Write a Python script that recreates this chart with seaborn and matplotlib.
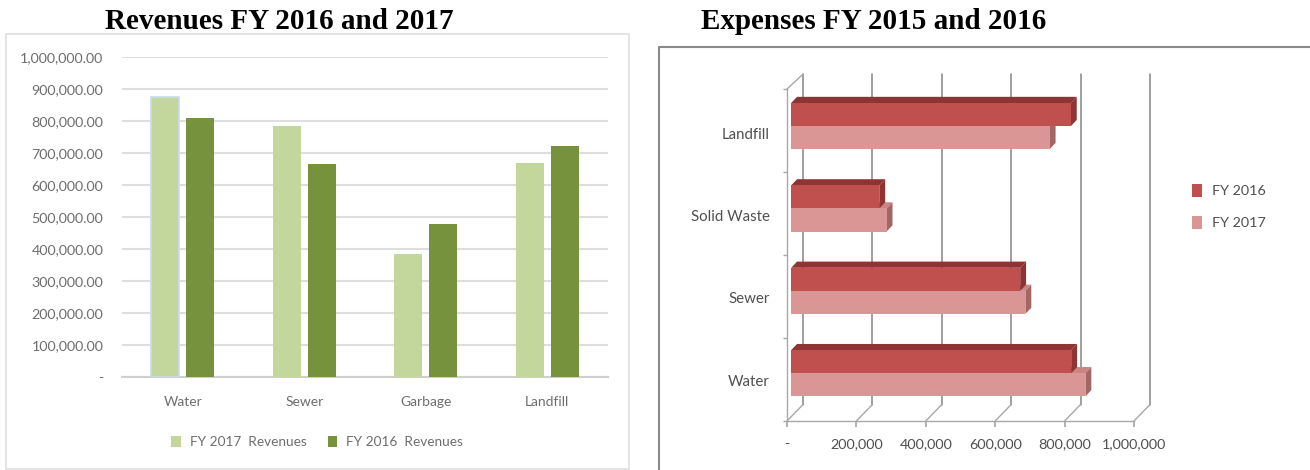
import numpy as np
import pandas as pd
import matplotlib
matplotlib.use("Agg")
import matplotlib.pyplot as plt
from matplotlib.lines import Line2D
from matplotlib.patches import Polygon, Rectangle
import seaborn as sns

# data
rev_categories = ["Water", "Sewer", "Garbage", "Landfill"]
rev_fy2017 = [875000, 784000, 384000, 669000]
rev_fy2016 = [808000, 665000, 477000, 721000]
rev_ticks = list(range(0, 1000001, 100000))
rev_ticklabels = ["-"] + [f"{v:,.2f}" for v in rev_ticks[1:]]

exp_categories = ["Landfill", "Solid Waste", "Sewer", "Water"]
exp_fy2016 = [806000, 254000, 660000, 807000]
exp_fy2017 = [745000, 275000, 675000, 848000]
exp_ticks = [0, 200000, 400000, 600000, 800000, 1000000]
exp_ticklabels = ["-", "200,000", "400,000", "600,000", "800,000", "1,000,000"]

W, H = 1310, 470
TEXT_GREY = "#6e6e6e"
LABEL_GREY = "#505050"
LIGHT_GREEN, DARK_GREEN = "#c3d69b", "#76923c"
LIGHT_RED, DARK_RED = "#d99694", "#c0504d"
SANS = ["Lato", "DejaVu Sans"]
SERIF = ["Liberation Serif", "DejaVu Serif"]


def px_axes(fig, x0, y0, x1, y1):
    # axes box given in image pixels, y counted from the top
    ax = fig.add_axes([x0 / W, 1 - y1 / H, (x1 - x0) / W, (y1 - y0) / H])
    ax.patch.set_alpha(0)
    return ax


sns.set_theme(style="white")
plt.rcParams["font.family"] = SANS
fig = plt.figure(figsize=(W / 100, H / 100), dpi=100, facecolor="white")

# panel frames
fig.add_artist(Rectangle((6 / W, 1 - 469 / H), 623 / W, 435 / H, transform=fig.transFigure,
                         fc="white", ec="#e2e2e2", lw=1.3, zorder=-1))
fig.add_artist(Line2D([658.5 / W, 658.5 / W, 1], [0, 1 - 47 / H, 1 - 47 / H],
                      transform=fig.transFigure, color="#8a8a8a", lw=1.5, zorder=-1))

fig.text(279 / W, 1 - 21.5 / H, "Revenues FY 2016 and 2017", family=SERIF, weight="bold",
         fontsize=21, color="black", ha="center", va="center")
fig.text(874 / W, 1 - 21.5 / H, "Expenses FY 2015 and 2016", family=SERIF, weight="bold",
         fontsize=21, color="black", ha="center", va="center")

# ── revenues ──────────────────────────────────────────────────────────────────
rev = pd.DataFrame({"category": rev_categories,
                    "FY 2017  Revenues": rev_fy2017,
                    "FY 2016  Revenues": rev_fy2016}).melt("category", var_name="series", value_name="value")
ax1 = px_axes(fig, 122, 57, 608, 377)
sns.barplot(data=rev, x="category", y="value", hue="series", ax=ax1,
            palette=[LIGHT_GREEN, DARK_GREEN], width=0.58, gap=0.2, saturation=1, zorder=3,
            linewidth=0)
ax1.patches[0].set_edgecolor("#c9dcec")
ax1.patches[0].set_linewidth(1.2)
ax1.set_xlim(-0.5, 3.5)
ax1.set_ylim(0, 1000000)
ax1.set_yticks(rev_ticks, rev_ticklabels)
ax1.set_xlabel("")
ax1.set_ylabel("")
ax1.grid(axis="y", color="#dedede", lw=1.5, zorder=0)
ax1.set_axisbelow(True)
for side in ["top", "left", "right"]:
    ax1.spines[side].set_visible(False)
ax1.spines["bottom"].set_color("#cfcfcf")
ax1.spines["bottom"].set_linewidth(1.5)
ax1.tick_params(axis="y", length=0, pad=13.5, labelsize=10.3, labelcolor=TEXT_GREY)
ax1.tick_params(axis="x", length=0, pad=13.5, labelsize=10, labelcolor=TEXT_GREY)
handles, labels = ax1.get_legend_handles_labels()
ax1.legend(handles, labels, ncol=2, frameon=False, loc="center", fontsize=9.8,
           bbox_to_anchor=(317 / W, 1 - 442 / H), bbox_transform=fig.transFigure,
           labelcolor=TEXT_GREY, handlelength=0.7, handleheight=0.9, handletextpad=0.65,
           columnspacing=1.56)

# ── expenses ──────────────────────────────────────────────────────────────────
FRONT = 12000     # bars sit this far behind the front axis plane
BACK = 34000      # back wall, behind the bars
BAR_DX, BAR_DY = 17000, 0.075
exp = pd.DataFrame({"category": exp_categories,
                    "FY 2016": exp_fy2016,
                    "FY 2017": exp_fy2017}).melt("category", var_name="series", value_name="value")
ax2 = px_axes(fig, 787, 89, 1134, 421)
sns.barplot(data=exp, y="category", x="value", hue="series", ax=ax2, orient="y",
            palette=[DARK_RED, LIGHT_RED], width=0.56, gap=0, saturation=1, zorder=3,
            linewidth=0)
ax2.set_xlim(-FRONT, 1000000 - FRONT)
ax2.set_ylim(3.58, -0.45)

n = len(exp_categories)
for i, bar in enumerate(ax2.patches[:2 * n]):
    dark = i < n
    x1 = bar.get_x() + bar.get_width()
    top, bottom = bar.get_y(), bar.get_y() + bar.get_height()
    z = 2.6 if dark else 2.5
    ax2.add_patch(Polygon([(bar.get_x(), top), (bar.get_x() + BAR_DX, top - BAR_DY),
                           (x1 + BAR_DX, top - BAR_DY), (x1, top)],
                          fc="#8e3432" if dark else "#c98583", ec="none", zorder=z, clip_on=False))
    ax2.add_patch(Polygon([(x1, top), (x1 + BAR_DX, top - BAR_DY),
                           (x1 + BAR_DX, bottom - BAR_DY), (x1, bottom)],
                          fc="#8e3432" if dark else "#a26664", ec="none", zorder=z, clip_on=False))

# back wall and floor of the 3d box
y_top_back, y_bottom_back = -0.63, 3.38
for v in exp_ticks:
    ax2.plot([v + BACK] * 2, [y_top_back, y_bottom_back], color="#858585", lw=1.1,
             zorder=1, clip_on=False)
    ax2.plot([v - FRONT, v + BACK], [3.58, y_bottom_back], color="#a8a8a8", lw=1.0, zorder=1, clip_on=False)
ax2.plot([-FRONT, BACK], [-0.45, y_top_back], color="#a8a8a8", lw=1.0, zorder=1, clip_on=False)

ax2.set_xticks([v - FRONT for v in exp_ticks], exp_ticklabels)
ax2.set_yticks([i + 0.085 for i in range(n)], exp_categories)
ax2.set_yticks([-0.45 + k * 4.03 / n for k in range(n + 1)], minor=True)
ax2.set_xlabel("")
ax2.set_ylabel("")
for side in ["top", "right"]:
    ax2.spines[side].set_visible(False)
for side in ["left", "bottom"]:
    ax2.spines[side].set_color("#a8a8a8")
    ax2.spines[side].set_linewidth(1.0)
ax2.tick_params(axis="y", which="major", length=0, pad=12.4, labelsize=10.8, labelcolor=LABEL_GREY)
ax2.tick_params(axis="y", which="minor", left=True, length=3, color="#a8a8a8")
ax2.tick_params(axis="x", length=4, bottom=True, color="#a8a8a8", pad=8, labelsize=10.4, labelcolor=LABEL_GREY)
handles, labels = ax2.get_legend_handles_labels()
ax2.legend(handles, labels, frameon=False, loc="center", fontsize=10.4,
           bbox_to_anchor=(1229 / W, 1 - 206.5 / H), bbox_transform=fig.transFigure,
           labelcolor=LABEL_GREY, handlelength=0.7, handleheight=1.0, handletextpad=0.65,
           labelspacing=1.3)

fig.savefig("out.png", dpi=100)
